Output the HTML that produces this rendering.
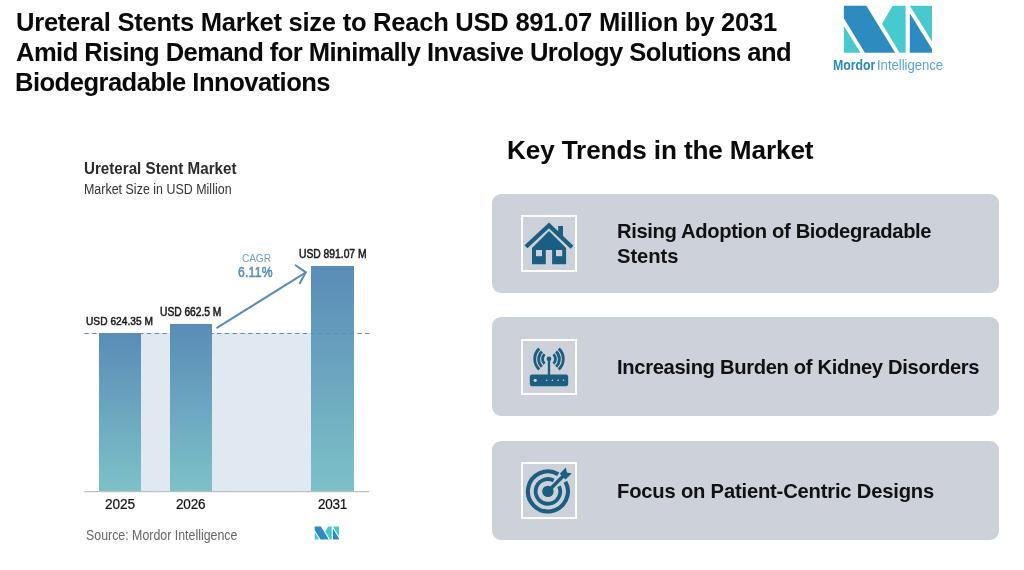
<!DOCTYPE html>
<html><head><meta charset="utf-8"><style>
html,body{margin:0;padding:0;background:#fff;}
body{width:1024px;height:570px;position:relative;overflow:hidden;font-family:"Liberation Sans",sans-serif;}
.t{position:absolute;white-space:nowrap;will-change:transform;}
.card{position:absolute;left:492px;width:507px;height:99px;background:#cdd2da;border-radius:9px;}
.ic{position:absolute;}
.bar{position:absolute;background:linear-gradient(180deg,#5a8cb7 0%,#7dc1c8 100%);}
</style></head><body>
<div class="card" style="top:194px"></div>
<div class="card" style="top:317px"></div>
<div class="card" style="top:441px"></div>
<svg class="ic" style="left:521px;top:215px" width="56" height="57" viewBox="0 0 56 57">
<rect x="1" y="1" width="54" height="55" fill="none" stroke="#fff" stroke-width="2"/>
<polyline points="5,31.8 28,10.4 51,32.2" fill="none" stroke="#1b5e82" stroke-width="4.2" stroke-linejoin="miter"/>
<rect x="37.2" y="11" width="4.8" height="11" fill="#1b5e82"/>
<path d="M11,33 L28,15.9 L45.1,33 L45.1,49.2 L31.1,49.2 L31.1,35 L24.8,35 L24.8,49.2 L11,49.2 Z" fill="#1b5e82"/>
<rect x="15" y="35" width="6" height="6.2" fill="#cdd2da"/>
<rect x="35" y="35" width="6.2" height="6.2" fill="#cdd2da"/>
</svg>
<svg class="ic" style="left:521px;top:339px" width="56" height="56" viewBox="0 0 56 56">
<rect x="1" y="1" width="54" height="54" fill="none" stroke="#fff" stroke-width="2"/>
<g fill="none" stroke="#1b5e82" stroke-width="2.8">
<path d="M18.25,9.64 A14.3,14.3 0 0 0 18.25,30.56"/>
<path d="M37.75,9.64 A14.3,14.3 0 0 1 37.75,30.56"/>
<path d="M20.91,12.49 A10.4,10.4 0 0 0 20.91,27.71"/>
<path d="M35.09,12.49 A10.4,10.4 0 0 1 35.09,27.71"/>
<path d="M23.57,15.35 A6.5,6.5 0 0 0 23.57,24.85"/>
<path d="M32.43,15.35 A6.5,6.5 0 0 1 32.43,24.85"/>
</g>
<circle cx="28" cy="19.8" r="2.4" fill="#1b5e82"/>
<rect x="26.8" y="19.8" width="2.4" height="17" fill="#1b5e82"/>
<rect x="8.8" y="35.5" width="38.4" height="11.7" rx="2.2" fill="#1b5e82"/>
<circle cx="14.2" cy="41.3" r="1.6" fill="#cdd2da"/>
<circle cx="25.7" cy="41.3" r="0.8" fill="#cdd2da"/>
<circle cx="31.4" cy="41.3" r="0.8" fill="#cdd2da"/>
<circle cx="37.1" cy="41.3" r="0.8" fill="#cdd2da"/>
<circle cx="42.5" cy="41.3" r="0.8" fill="#cdd2da"/>
</svg>
<svg class="ic" style="left:521px;top:462px" width="56" height="57" viewBox="0 0 56 57">
<rect x="1" y="1" width="54" height="55" fill="none" stroke="#fff" stroke-width="2"/>
<g fill="none" stroke="#1b5e82">
<path d="M37.2,12.26 A20,20 0 1 0 44.4,19.7" stroke-width="4.1"/>
<path d="M32.67,18.54 A12.3,12.3 0 1 0 38.05,24.2" stroke-width="3.8"/>
</g>
<circle cx="26.9" cy="29.4" r="5.7" fill="#1b5e82"/>
<g transform="translate(26.9,29.4) rotate(-45)" fill="#1b5e82">
<rect x="0" y="-1.75" width="22" height="3.5"/>
<polygon points="20.8,-4 29.6,-4.2 26.8,0 29.6,4.2 20.8,4"/>
</g>
</svg>
<div style="position:absolute;left:99px;top:333.4px;width:254.9px;height:157.8px;background:#e0e9f1"></div>
<div class="bar" style="left:99px;top:333.4px;width:42.1px;height:157.8px"></div><div class="bar" style="left:169.5px;top:323.9px;width:42.4px;height:167.3px"></div><div class="bar" style="left:311.4px;top:266px;width:42.5px;height:225.2px"></div>
<svg style="position:absolute;left:0;top:0" width="1024" height="570">
<line x1="84.4" y1="333.5" x2="371" y2="333.5" stroke="#5a8dbb" stroke-width="1" stroke-dasharray="4.4,3.4"/>
<line x1="84" y1="491.7" x2="369" y2="491.7" stroke="#b0b0b0" stroke-width="1"/>
<g fill="none" stroke="#5a8dbb" stroke-width="2" stroke-linecap="round">
<line x1="217.3" y1="327.6" x2="305.5" y2="272.6"/>
<polyline points="295.6,265.2 305.8,272.4 299.8,283.3"/>
</g>
<polygon fill="#2e8bc0" points="843.90,5.70 866.40,5.70 895.20,52.80 864.90,52.80 843.90,18.60"/><polygon fill="#48c9cd" points="843.90,25.90 860.50,52.80 843.90,52.80"/><polygon fill="#48c9cd" points="892.70,5.70 905.60,5.70 905.60,52.80 899.60,52.80 882.00,23.70"/><polygon fill="#2e8bc0" points="909.80,13.20 932.00,48.90 932.00,52.80 909.80,52.80"/><polygon fill="#48c9cd" points="909.80,5.70 932.00,5.70 932.00,41.50"/>
<polygon fill="#2e8bc0" points="314.70,526.40 320.91,526.40 328.85,539.60 320.49,539.60 314.70,530.02"/><polygon fill="#48c9cd" points="314.70,532.06 319.28,539.60 314.70,539.60"/><polygon fill="#48c9cd" points="328.16,526.40 331.72,526.40 331.72,539.60 330.06,539.60 325.21,531.44"/><polygon fill="#2e8bc0" points="332.88,528.50 339.00,538.51 339.00,539.60 332.88,539.60"/><polygon fill="#48c9cd" points="332.88,526.40 339.00,526.40 339.00,536.43"/>
</svg>
<div class="t" style="left:15.60px;top:9.90px;font-size:25.58px;line-height:25.58px;letter-spacing:-0.266px;font-weight:700;color:#0a0a0a">Ureteral Stents Market size to Reach USD 891.07 Million by 2031</div><div class="t" style="left:15.60px;top:39.50px;font-size:25.58px;line-height:25.58px;letter-spacing:-0.555px;font-weight:700;color:#0a0a0a">Amid Rising Demand for Minimally Invasive Urology Solutions and</div><div class="t" style="left:14.60px;top:69.80px;font-size:25.58px;line-height:25.58px;letter-spacing:-0.529px;font-weight:700;color:#0a0a0a">Biodegradable Innovations</div><div class="t" style="left:507.30px;top:137.00px;font-size:26.16px;line-height:26.16px;letter-spacing:-0.135px;font-weight:700;color:#0a0a0a">Key Trends in the Market</div><div class="t" style="left:617.00px;top:221.00px;font-size:20.20px;line-height:20.20px;letter-spacing:-0.355px;font-weight:700;color:#111">Rising Adoption of Biodegradable</div><div class="t" style="left:617.00px;top:245.60px;font-size:20.20px;line-height:20.20px;letter-spacing:-0.060px;font-weight:700;color:#111">Stents</div><div class="t" style="left:617.20px;top:356.90px;font-size:20.20px;line-height:20.20px;letter-spacing:-0.336px;font-weight:700;color:#111">Increasing Burden of Kidney Disorders</div><div class="t" style="left:617.00px;top:480.70px;font-size:20.20px;line-height:20.20px;letter-spacing:-0.190px;font-weight:700;color:#111">Focus on Patient-Centric Designs</div><div class="t" style="left:84.30px;top:161.10px;font-size:15.21px;line-height:15.21px;letter-spacing:-0.020px;font-weight:700;color:#2b2b2b;transform-origin:0 13px;transform:scaleY(1.1082)">Ureteral Stent Market</div><div class="t" style="left:84.30px;top:183.50px;font-size:12.42px;line-height:12.42px;letter-spacing:0.028px;font-weight:400;color:#333;transform-origin:0 10px;transform:scaleY(1.1119)">Market Size in USD Million</div><div class="t" style="left:86.30px;top:317.20px;font-size:10.16px;line-height:10.16px;letter-spacing:0.036px;font-weight:400;color:#1a1a1a;transform-origin:0 8px;transform:scaleY(1.1446);-webkit-text-stroke:0.45px #1a1a1a">USD 624.35 M</div><div class="t" style="left:160.10px;top:307.70px;font-size:10.30px;line-height:10.30px;letter-spacing:-0.050px;font-weight:400;color:#1a1a1a;transform-origin:0 8px;transform:scaleY(1.1570);-webkit-text-stroke:0.45px #1a1a1a">USD 662.5 M</div><div class="t" style="left:299.00px;top:249.60px;font-size:10.34px;line-height:10.34px;letter-spacing:-0.018px;font-weight:400;color:#1a1a1a;transform-origin:0 8px;transform:scaleY(1.1527);-webkit-text-stroke:0.45px #1a1a1a">USD 891.07 M</div><div class="t" style="left:242.10px;top:253.50px;font-size:10.22px;line-height:10.22px;letter-spacing:-0.167px;font-weight:400;color:#6c9fc6;transform-origin:0 8px;transform:scaleY(1.0526)">CAGR</div><div class="t" style="left:238.30px;top:267.40px;font-size:12.17px;line-height:12.17px;letter-spacing:0.225px;font-weight:400;color:#5a8dbb;transform-origin:0 10px;transform:scaleY(1.1504);-webkit-text-stroke:0.5px #5a8dbb">6.11%</div><div class="t" style="left:105.00px;top:497.70px;font-size:13.68px;line-height:13.68px;letter-spacing:-0.100px;font-weight:400;color:#111;transform-origin:0 11px;transform:scaleY(1.1111);-webkit-text-stroke:0.2px #111">2025</div><div class="t" style="left:176.10px;top:497.70px;font-size:13.54px;line-height:13.54px;letter-spacing:-0.200px;font-weight:400;color:#111;transform-origin:0 11px;transform:scaleY(1.1224);-webkit-text-stroke:0.2px #111">2026</div><div class="t" style="left:317.90px;top:497.70px;font-size:13.50px;line-height:13.50px;letter-spacing:-0.233px;font-weight:400;color:#111;transform-origin:0 11px;transform:scaleY(1.1263);-webkit-text-stroke:0.2px #111">2031</div><div class="t" style="left:85.60px;top:529.80px;font-size:12.39px;line-height:12.39px;letter-spacing:0.004px;font-weight:400;color:#666;transform-origin:0 10px;transform:scaleY(1.1259)">Source: Mordor Intelligence</div><div class="t" style="left:833.10px;top:59.50px;font-size:12.29px;line-height:12.29px;letter-spacing:0.000px;font-weight:700;color:#2a86c0;transform-origin:0 10px;transform:scaleY(1.1707)">Mordor</div><div class="t" style="left:877.00px;top:58.50px;font-size:13.11px;line-height:13.11px;letter-spacing:-0.027px;font-weight:400;color:#5aa5d3;transform-origin:0 11px;transform:scaleY(1.0974)">Intelligence</div>
</body></html>
